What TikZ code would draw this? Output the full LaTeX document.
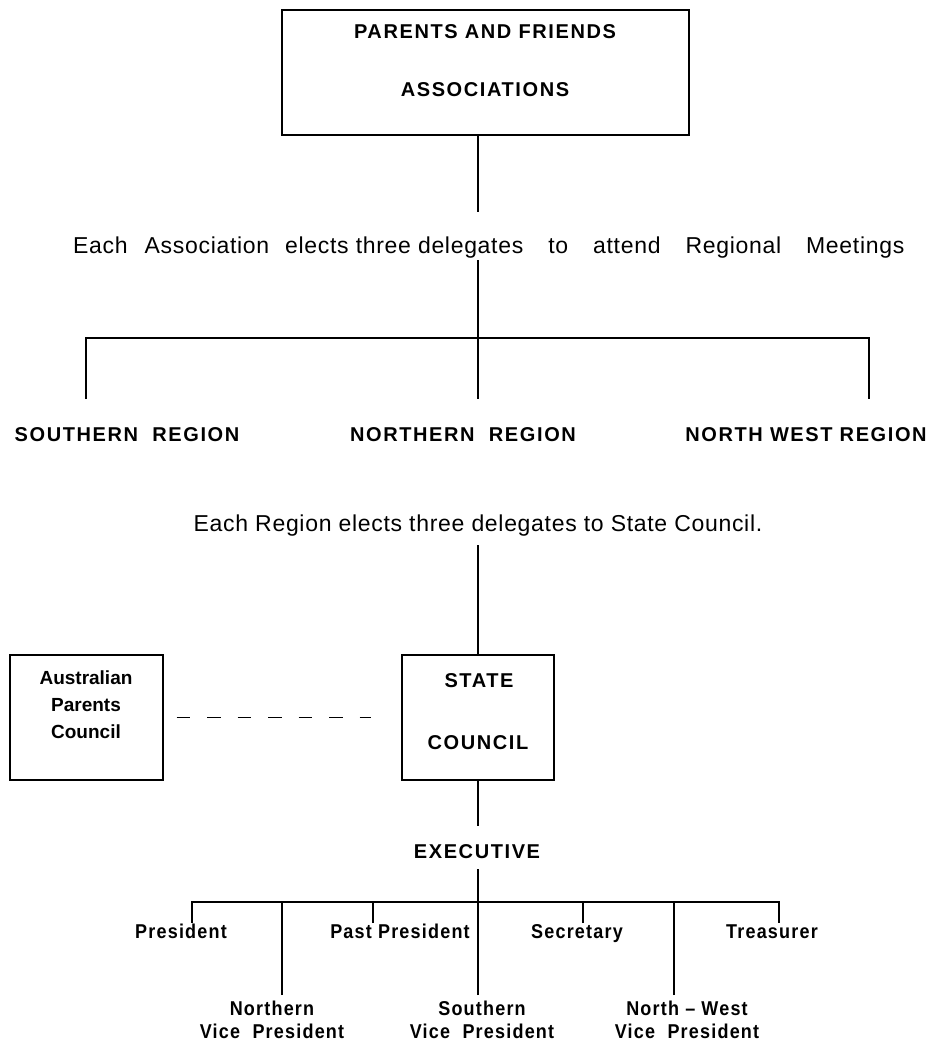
\documentclass[tikz,border=0pt]{standalone}
\usepackage{fontspec}
\setmainfont{Liberation Sans}
\newfontfamily\capsfont[LetterSpace=8]{Liberation Sans}
\newfontfamily\narrowfont[FakeStretch=0.9,LetterSpace=6]{Liberation Sans}
\newfontfamily\notefont[LetterSpace=3]{Liberation Sans}

\tikzset{
  orgbox/.style={draw, line width=1.2pt, inner sep=0pt},
  headtext/.style={font=\capsfont\bfseries\fontsize{20}{24}\selectfont, inner sep=0pt, anchor=base},
  posttext/.style={font=\narrowfont\bfseries\fontsize{20}{23}\selectfont, inner sep=0pt, align=center},
  notetext/.style={font=\notefont\fontsize{23}{27}\selectfont, inner sep=0pt, anchor=base},
  link/.style={line width=1.2pt},
}

\begin{document}
\begin{tikzpicture}[x=1pt, y=-1pt]
    \useasboundingbox[fill=white] (0,0) rectangle (949,1043);

    % Parents and friends box
    \node[orgbox, minimum width=407pt, minimum height=125pt] (pfa) at (485.5,72.5) {};
    \node[headtext] (pfa1) at (485,39) {PARENTS AND FRIENDS};
    \node[headtext] (pfa2) at (485,97) {ASSOCIATIONS};

    % Spine points
    \coordinate (a1) at (478,212);
    \coordinate (a2) at (478,260);
    \coordinate (hub1) at (478,338);
    \coordinate (s1) at (86,399);
    \coordinate (n1) at (478,399);
    \coordinate (w1) at (869,399);
    \coordinate (b1) at (478,545);
    \coordinate (e1) at (478,826);
    \coordinate (e2) at (478,869);
    \coordinate (hub2) at (478,902);

    \node[notetext, anchor=base west] (note1) at (73,253) {Each\hspace{17pt}Association\hspace{16pt}elects three delegates\hspace{25pt}to\hspace{25pt}attend\hspace{25pt}Regional\hspace{25pt}Meetings};

    \draw[link] (pfa.south -| a1) -- (a1);
    \draw[link] (a2) -- (n1);
    \draw[link] (s1) |- (hub1) -| (w1);

    % Regions
    \node[headtext] (south) at (127,441) {SOUTHERN\ \ REGION};
    \node[headtext] (north) at (463,441) {NORTHERN\ \ REGION};
    \node[headtext] (nwest) at (806,441) {NORTH WEST REGION};

    \node[notetext] (note2) at (478,531) {Each Region elects three delegates to State Council.};

    % State council
    \node[orgbox, minimum width=152pt, minimum height=125pt] (sc) at (478,717.5) {};
    \node[headtext] (sc1) at (479,687) {STATE};
    \node[headtext] (sc2) at (478,749) {COUNCIL};

    \node[orgbox, minimum width=153pt, minimum height=125pt] (apc) at (86.5,717.5) {};
    \node[headtext, font=\bfseries\fontsize{19}{27}\selectfont, align=center, anchor=north] (apc1) at (86,671) {Australian\\Parents\\Council};

    \draw[link] (b1) -- (sc.north);
    \draw[link] (sc.south) -- (e1);
    \draw[link, dash pattern=on 13.5pt off 17pt, shorten <=13pt, shorten >=30pt] (apc.east) -- (sc.west);

    % Executive
    \node[headtext] (exec) at (477,858) {EXECUTIVE};
    \draw[link] (e2) -- (hub2);

    \foreach \name/\x/\txt in {pres/181/President, past/400/Past President, sec/577/Secretary, treas/772/Treasurer}
        \node[posttext, anchor=base] (\name) at (\x,938) {\txt};
    \foreach \name/\x/\txt in {nvp/272/Northern, svp/482/Southern, nwvp/687/North – West}
        \node[posttext, anchor=north] (\name) at (\x,1001) {\txt\\Vice\ \ President};

    \foreach \name/\x/\y in {bp/192/923, bn/282/995, bpp/373/923, bs/478/995, bsec/583/923, bnw/674/995, bt/779/923}
        \coordinate (\name) at (\x,\y);
    \draw[link] (bp) |- (hub2) -| (bt);
    \foreach \name in {bn, bpp, bs, bsec, bnw}
        \draw[link] (\name) -- (\name |- hub2);
\end{tikzpicture}
\end{document}
